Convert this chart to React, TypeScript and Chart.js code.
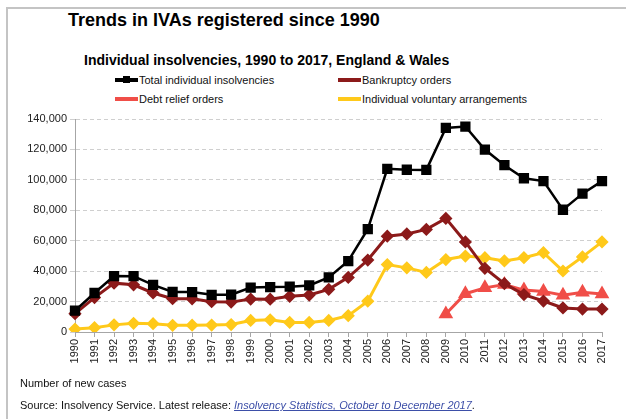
import React, { useEffect, useRef } from "react";
import { Chart, registerables } from "chart.js";

Chart.register(...registerables);

const years = [
  "1990","1991","1992","1993","1994","1995","1996","1997","1998","1999",
  "2000","2001","2002","2003","2004","2005","2006","2007","2008","2009",
  "2010","2011","2012","2013","2014","2015","2016","2017",
];

const totalInsolvencies = [
  13987, 25640, 36794, 36703, 31016, 26319, 26271, 24441, 24549, 29195,
  29528, 29775, 30587, 35898, 46652, 67584, 107288, 106645, 106544, 134142,
  135045, 119941, 109633, 101049, 99223, 80356, 90930, 99196,
];

const bankruptcyOrders = [
  12058, 22632, 32106, 31016, 25634, 21933, 21803, 19892, 19647, 21611,
  21550, 23477, 24292, 28021, 35898, 47291, 62956, 64480, 67428, 74670,
  59173, 41876, 31787, 24571, 20345, 15845, 15044, 15063,
];

const debtReliefOrders = [
  null, null, null, null, null, null, null, null, null, null,
  null, null, null, null, null, null, null, null, null, 11831,
  25179, 29009, 31179, 27546, 26688, 24175, 26196, 24927,
];

const ivas = [
  1927, 2860, 4686, 5679, 5437, 4384, 4468, 4549, 4902, 7583,
  7978, 6298, 6295, 7583, 10752, 20293, 44332, 42165, 39116, 47641,
  49895, 48812, 46733, 48864, 52158, 40094, 49356, 59220,
];

const yTicks = [0, 20000, 40000, 60000, 80000, 100000, 120000, 140000];

const C_TOTAL = "#000000";
const C_BANK = "#8c1a1a";
const C_DRO = "#f04e48";
const C_IVA = "#ffc91a";

const FONT = "'Liberation Sans', Arial, sans-serif";

function LegendItem({ color, label, marker }: { color: string; label: string; marker?: boolean }) {
  return (
    <div style={{ display: "flex", alignItems: "center", height: 19 }}>
      <div style={{ position: "relative", width: 23, height: 4, background: color, marginRight: 1 }}>
        {marker ? (
          <div style={{ position: "absolute", left: 8, top: -2, width: 7, height: 7, background: color }} />
        ) : null}
      </div>
      <span style={{ fontSize: 11, color: "#111" }}>{label}</span>
    </div>
  );
}

export default function App() {
  const ref = useRef<HTMLCanvasElement | null>(null);

  useEffect(() => {
    if (!ref.current) return;
    const chart = new Chart(ref.current, {
      type: "line",
      data: {
        labels: years,
        datasets: [
          {
            label: "Total individual insolvencies",
            data: totalInsolvencies,
            borderColor: C_TOTAL,
            backgroundColor: C_TOTAL,
            borderWidth: 2.5,
            pointStyle: "rect",
            pointRadius: 5.5,
            tension: 0,
          },
          {
            label: "Bankruptcy orders",
            data: bankruptcyOrders,
            borderColor: C_BANK,
            backgroundColor: C_BANK,
            borderWidth: 3,
            pointStyle: "rectRot",
            pointRadius: 4.5,
            tension: 0,
          },
          {
            label: "Debt relief orders",
            data: debtReliefOrders,
            borderColor: C_DRO,
            backgroundColor: C_DRO,
            borderWidth: 3,
            pointStyle: "triangle",
            pointRadius: 5.5,
            tension: 0,
            spanGaps: false,
          },
          {
            label: "Individual voluntary arrangements",
            data: ivas,
            borderColor: C_IVA,
            backgroundColor: C_IVA,
            borderWidth: 3,
            pointStyle: "rectRot",
            pointRadius: 4.5,
            tension: 0,
          },
        ],
      },
      options: {
        responsive: false,
        animation: false,
        devicePixelRatio: 1,
        layout: { padding: { top: 11, right: 18, left: 0, bottom: 0 } },
        plugins: {
          legend: { display: false },
          title: { display: false },
          tooltip: { enabled: false },
        },
        scales: {
          x: {
            offset: false,
            grid: {
              display: true,
              drawOnChartArea: false,
              drawTicks: true,
              tickLength: 5,
              color: "#a6a6a6",
            },
            border: { display: true, color: "#a6a6a6", width: 1 },
            ticks: {
              autoSkip: false,
              maxRotation: 90,
              minRotation: 90,
              padding: 2,
              color: "#222",
              font: { family: FONT, size: 11 },
            },
            afterFit: (s: any) => {
              s.height = 50;
            },
          },
          y: {
            min: 0,
            max: 140000,
            afterBuildTicks: (s: any) => {
              s.ticks = yTicks.map((v) => ({ value: v }));
            },
            grid: {
              color: "#cfcfcf",
              tickLength: 5,
              lineWidth: 1,
            },
            border: { display: true, color: "#a6a6a6", width: 1, dash: [4, 3] },
            ticks: {
              padding: 3,
              color: "#222",
              font: { family: FONT, size: 11 },
              callback: (v: any) => Number(v).toLocaleString("en-GB"),
            },
            afterFit: (s: any) => {
              s.width = 75;
            },
          },
        },
      },
    });
    return () => chart.destroy();
  }, []);

  return (
    <div
      style={{
        position: "absolute",
        left: 0,
        top: 0,
        width: 626,
        height: 419,
        overflow: "hidden",
        background: "#fff",
        fontFamily: FONT,
      }}
    >
      <div
        style={{
          position: "absolute",
          left: 6,
          top: 7,
          width: 700,
          height: 500,
          border: "2px solid #c4c4c4",
          boxSizing: "border-box",
        }}
      />
      <div
        style={{
          position: "absolute",
          left: 68,
          top: 10,
          fontSize: 18,
          fontWeight: "bold",
          color: "#000",
          whiteSpace: "nowrap",
        }}
      >
        Trends in IVAs registered since 1990
      </div>
      <div
        style={{
          position: "absolute",
          left: 84,
          top: 52,
          fontSize: 14,
          fontWeight: "bold",
          color: "#000",
          whiteSpace: "nowrap",
        }}
      >
        Individual insolvencies, 1990 to 2017, England &amp; Wales
      </div>
      <div style={{ position: "absolute", left: 115, top: 70 }}>
        <LegendItem color={C_TOTAL} label="Total individual insolvencies" marker />
        <LegendItem color={C_DRO} label="Debt relief orders" />
      </div>
      <div style={{ position: "absolute", left: 338, top: 70 }}>
        <LegendItem color={C_BANK} label="Bankruptcy orders" />
        <LegendItem color={C_IVA} label="Individual voluntary arrangements" />
      </div>
      <canvas
        ref={ref}
        width={620}
        height={274}
        style={{ position: "absolute", left: 0, top: 108, width: 620, height: 274 }}
      />
      <div style={{ position: "absolute", left: 20, top: 377, fontSize: 11, color: "#111", whiteSpace: "nowrap" }}>
        Number of new cases
      </div>
      <div style={{ position: "absolute", left: 20, top: 399, fontSize: 11, color: "#111", whiteSpace: "nowrap" }}>
        Source: Insolvency Service. Latest release:{" "}
        <span style={{ color: "#3d4fa8", fontStyle: "italic", textDecoration: "underline" }}>
          Insolvency Statistics, October to December 2017
        </span>
        .
      </div>
    </div>
  );
}
